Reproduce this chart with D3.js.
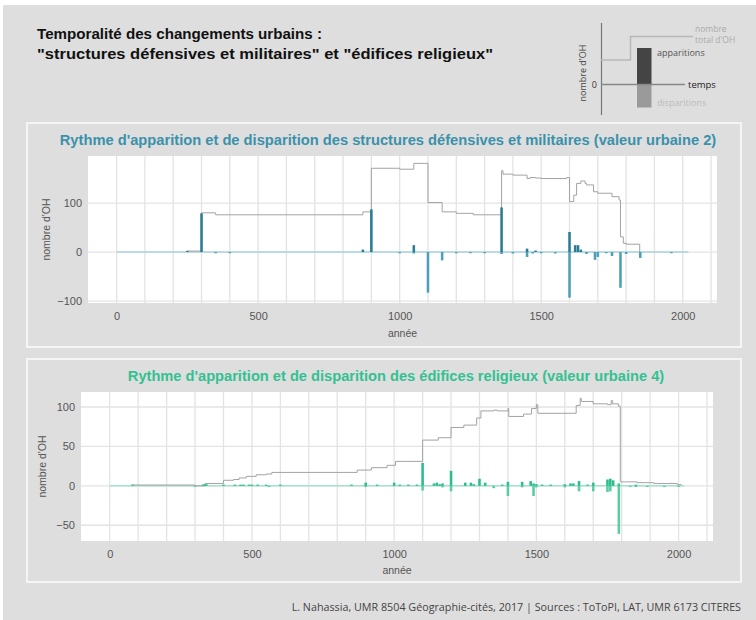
<!DOCTYPE html>
<html><head><meta charset="utf-8">
<script src="https://cdn.jsdelivr.net/npm/d3@7"></script>
<style>
html,body{margin:0;padding:0;background:#fff;}
svg{display:block;font-family:"Liberation Sans",Arial,sans-serif;}
</style></head>
<body>
<svg id="c" width="756" height="620"></svg>
<script>
// ---------- DATA ----------
const xTicks = [0, 500, 1000, 1500, 2000];
const yTicks1 = [-100, 0, 100];
const yTicks2 = [-50, 0, 50, 100];

// Panel 1 : structures défensives et militaires (décennies)
const def_appar_years = [250, 300, 870, 900, 1050, 1360, 1450, 1480, 1600, 1620, 1630, 1640];
const def_appar_vals  = [2, 79, 5, 87, 14, 91, 7, 3, 41, 14, 14, 5];
const def_disp_years  = [350, 400, 1000, 1050, 1100, 1150, 1200, 1250, 1300, 1360, 1400, 1450, 1470, 1500, 1550, 1600, 1660, 1690, 1700, 1730, 1750, 1780, 1800, 1850, 1960];
const def_disp_vals   = [-1, -1, -2, -3, -83, -17, -2, -1, -1, -4, -3, -10, -3, -2, -3, -93, -4, -16, -10, -2, -8, -73, -4, -12, -1];
const def_total_years = [250, 300, 350, 870, 900, 1000, 1050, 1100, 1150, 1200, 1260, 1360, 1365, 1400, 1450, 1460, 1480, 1500, 1590, 1600, 1615, 1625, 1640, 1655, 1660, 1685, 1700, 1750, 1775, 1780, 1790, 1800, 1848];
const def_total_vals  = [2, 80, 76, 82, 171, 169, 181, 101, 82, 79, 76, 166, 159, 157, 150, 152, 151, 150, 152, 103, 116, 140, 145, 140, 137, 123, 120, 113, 106, 31, 18, 16, 0];

// Panel 2 : édifices religieux
const rel_appar_years = [80, 330, 340, 400, 440, 460, 470, 490, 500, 520, 550, 600, 850, 900, 940, 1000, 1020, 1050, 1080, 1100, 1140, 1150, 1160, 1170, 1200, 1250, 1270, 1280, 1300, 1320, 1380, 1400, 1450, 1480, 1490, 1500, 1520, 1550, 1600, 1620, 1630, 1650, 1680, 1700, 1750, 1760, 1770, 1790, 1850];
const rel_appar_vals  = [1, 2, 2, 1, 1, 1, 1, 1, 1, 1, 1, 1, 1, 4, 1, 4, 1, 1, 1, 29, 3, 4, 2, 3, 19, 4, 4, 2, 9, 4, 1, 5, 5, 6, 3, 2, 1, 1, 2, 3, 3, 6, 1, 4, 8, 9, 7, 3, 1];
const rel_disp_years  = [300, 560, 900, 1100, 1170, 1200, 1350, 1400, 1450, 1490, 1500, 1600, 1650, 1700, 1750, 1760, 1790, 1830, 1850, 1890, 1950, 2000];
const rel_disp_vals   = [-1, -1, -1, -6, -2, -7, -3, -13, -2, -13, -2, -2, -7, -7, -8, -7, -61, -1, -1, -1, -1, -1];
const rel_total_years = [80, 300, 335, 400, 435, 455, 480, 515, 550, 570, 835, 870, 920, 975, 1005, 1100, 1155, 1200, 1245, 1290, 1305, 1350, 1362, 1400, 1403, 1455, 1483, 1500, 1505, 1612, 1640, 1654, 1658, 1700, 1750, 1763, 1768, 1789, 1795, 1854, 1913, 1995, 2010];
const rel_total_vals  = [1, 0, 3, 7, 8, 10, 12, 14, 15, 17, 17, 20, 23, 26, 31, 58, 61, 74, 77, 86, 95, 96, 95, 98, 88, 91, 98, 103, 92, 92, 102, 111, 107, 104, 103, 108, 104, 101, 5, 4, 3, 1.5, 1.5];

const zeroSpan = [0, 2020];

// ---------- DRAW ----------
const svg = d3.select("#c");
svg.append("rect").attr("x",3).attr("y",5).attr("width",753).attr("height",615).attr("fill","#dedede");

function fitText(sel, w){
  const l = sel.node().getComputedTextLength();
  const fs = parseFloat(sel.attr("font-size"));
  sel.attr("font-size", fs * w / l);
  return fs * w / l;
}

// main title
svg.append("text").attr("x",37).attr("y",39).attr("font-size",15.5).attr("font-weight","bold").attr("fill","#111")
  .attr("textLength",285).attr("lengthAdjust","spacingAndGlyphs")
  .text("Temporalité des changements urbains :");
svg.append("text").attr("x",37).attr("y",59).attr("font-size",15.5).attr("font-weight","bold").attr("fill","#111")
  .attr("textLength",456).attr("lengthAdjust","spacingAndGlyphs")
  .text("\"structures défensives et militaires\" et \"édifices religieux\"");

// legend (schéma)
const lg = svg.append("g").attr("font-family","'Open Sans',sans-serif");
lg.append("line").attr("x1",601.5).attr("x2",601.5).attr("y1",23).attr("y2",115).attr("stroke","#777").attr("stroke-width",1.2);
lg.append("path").attr("d","M601,60H630.5V36.5H693").attr("fill","none").attr("stroke","#b8b8b8").attr("stroke-width",1.5);
lg.append("rect").attr("x",637).attr("y",48).attr("width",14.5).attr("height",36.5).attr("fill","#444");
lg.append("rect").attr("x",637).attr("y",84.5).attr("width",14.5).attr("height",23).attr("fill","#9a9a9a");
lg.append("line").attr("x1",601).attr("x2",685).attr("y1",84.5).attr("y2",84.5).attr("stroke","#888").attr("stroke-width",1.5);
lg.append("text").attr("transform","translate(586,73) rotate(-90)").attr("text-anchor","middle").attr("font-size",9).attr("fill","#444").text("nombre d'OH");
lg.append("text").attr("x",597).attr("y",88).attr("text-anchor","end").attr("font-size",9).attr("fill","#333").text("0");
lg.append("text").attr("x",695).attr("y",32).attr("font-size",8.5).attr("fill","#aaa").text("nombre");
lg.append("text").attr("x",695).attr("y",43).attr("font-size",8.5).attr("fill","#aaa").text("total d'OH");
lg.append("text").attr("x",657).attr("y",56).attr("font-size",9).attr("fill","#555").text("apparitions");
lg.append("text").attr("x",688).attr("y",88).attr("font-size",9.5).attr("fill","#222").text("temps");
lg.append("text").attr("x",657).attr("y",106).attr("font-size",9).attr("fill","#bbb").text("disparitions");

function panel(cfg){
  const g = svg.append("g");
  g.append("rect").attr("x",cfg.box[0]).attr("y",cfg.box[1]).attr("width",cfg.box[2]-cfg.box[0]).attr("height",cfg.box[3]-cfg.box[1])
    .attr("fill","#dedede").attr("stroke","#f5f5f5").attr("stroke-width",2);
  const [L,T,R,B] = cfg.plot;
  const x = d3.scaleLinear().domain([-101, 2121]).range([L,R]);
  const y = d3.scaleLinear().domain(cfg.ydom).range([B,T]);
  g.append("rect").attr("x",L).attr("y",T).attr("width",R-L).attr("height",B-T).attr("fill","#fff");
  // grid
  g.append("g").selectAll("line").data(d3.range(0,2101,100)).join("line")
    .attr("x1",d=>x(d)).attr("x2",d=>x(d)).attr("y1",T).attr("y2",B).attr("stroke","#e3e3e3").attr("stroke-width",1.3);
  g.append("g").selectAll("line").data(cfg.yTicks).join("line")
    .attr("x1",L).attr("x2",R).attr("y1",d=>y(d)).attr("y2",d=>y(d)).attr("stroke","#e3e3e3").attr("stroke-width",1.3);
  // axes (labels only)
  const xa = g.append("g").attr("transform",`translate(0,${B})`)
    .call(d3.axisBottom(x).tickValues(xTicks).tickFormat(d3.format("d")).tickSize(0).tickPadding(cfg.xpad));
  xa.select(".domain").remove();
  xa.selectAll("text").attr("font-size",11).attr("fill","#555").attr("font-family","'Liberation Sans',Arial,sans-serif");
  const ya = g.append("g").attr("transform",`translate(${L},0)`)
    .call(d3.axisLeft(y).tickValues(cfg.yTicks).tickFormat(d3.format("d")).tickSize(0).tickPadding(6));
  ya.select(".domain").remove();
  ya.selectAll("text").attr("font-size",11).attr("fill","#555").attr("font-family","'Liberation Sans',Arial,sans-serif");
  g.append("text").attr("x",(L+R)/2).attr("y",cfg.xlabY).attr("text-anchor","middle").attr("font-size",10.5).attr("fill","#555").text("année");
  g.append("text").attr("transform",`translate(${cfg.ylabX},${(T+B)/2}) rotate(-90)`).attr("text-anchor","middle").attr("font-size",10.5).attr("fill","#555").text("nombre d'OH");
  // title
  const t = g.append("text").attr("x",cfg.titleX).attr("y",cfg.titleY).attr("text-anchor","middle").attr("font-size",13)
    .attr("font-weight","bold").attr("fill",cfg.titleColor).text(cfg.title);
  fitText(t, cfg.titleW);
  // zero line
  g.append("line").attr("x1",x(zeroSpan[0])).attr("x2",x(zeroSpan[1])).attr("y1",y(0)).attr("y2",y(0))
    .attr("stroke",cfg.zeroColor).attr("stroke-width",1.6);
  // total line
  const tot = cfg.totYears.map((d,i)=>[d,cfg.totVals[i]]);
  g.append("path").datum(tot).attr("fill","none").attr("stroke","#a3a3a3").attr("stroke-width",1)
    .attr("d", d3.line().x(d=>x(d[0])).y(d=>y(d[1])).curve(d3.curveStepAfter));
  // bars
  const bw = x(9) - x(0);
  const ap = cfg.apYears.map((d,i)=>[d,cfg.apVals[i]]);
  const di = cfg.diYears.map((d,i)=>[d,cfg.diVals[i]]);
  g.append("g").selectAll("rect").data(di).join("rect")
    .attr("x",d=>x(d[0])-bw/2).attr("width",bw).attr("y",y(0)).attr("height",d=>Math.max(1.2, y(d[1])-y(0))).attr("fill",cfg.diColor);
  g.append("g").selectAll("rect").data(ap).join("rect")
    .attr("x",d=>x(d[0])-bw/2).attr("width",bw).attr("y",d=>Math.min(y(d[1]), y(0)-1.2)).attr("height",d=>Math.max(1.2, y(0)-y(d[1]))).attr("fill",cfg.apColor);
}

panel({
  box:[27,123,741,347], plot:[88,156,717,303], ydom:[-104,196], yTicks:yTicks1, xpad:9, xlabY:337, ylabX:50,
  title:"Rythme d'apparition et de disparition des structures défensives et militaires (valeur urbaine 2)",
  titleX:388, titleY:145, titleW:657, titleColor:"#3b91aa",
  zeroColor:"#a9d5e0", apColor:"#2a7c95", diColor:"#4d9fb8",
  apYears:def_appar_years, apVals:def_appar_vals, diYears:def_disp_years, diVals:def_disp_vals,
  totYears:def_total_years, totVals:def_total_vals
});
panel({
  box:[27,359,741,582], plot:[81,392,713,541], ydom:[-70,119], yTicks:yTicks2, xpad:9, xlabY:574, ylabX:46,
  title:"Rythme d'apparition et de disparition des édifices religieux (valeur urbaine 4)",
  titleX:396, titleY:381, titleW:537, titleColor:"#33c191",
  zeroColor:"#a6e3cd", apColor:"#2bbd8b", diColor:"#5bcca4",
  apYears:rel_appar_years, apVals:rel_appar_vals, diYears:rel_disp_years, diVals:rel_disp_vals,
  totYears:rel_total_years, totVals:rel_total_vals
});

// footer
const ft = svg.append("text").attr("x",741).attr("y",611).attr("text-anchor","end").attr("font-size",10.5).attr("fill","#444")
  .attr("font-family","'Open Sans',sans-serif")
  .text("L. Nahassia, UMR 8504 Géographie-cités, 2017 | Sources : ToToPI, LAT, UMR 6173 CITERES");
fitText(ft, 450);
</script>
</body></html>
